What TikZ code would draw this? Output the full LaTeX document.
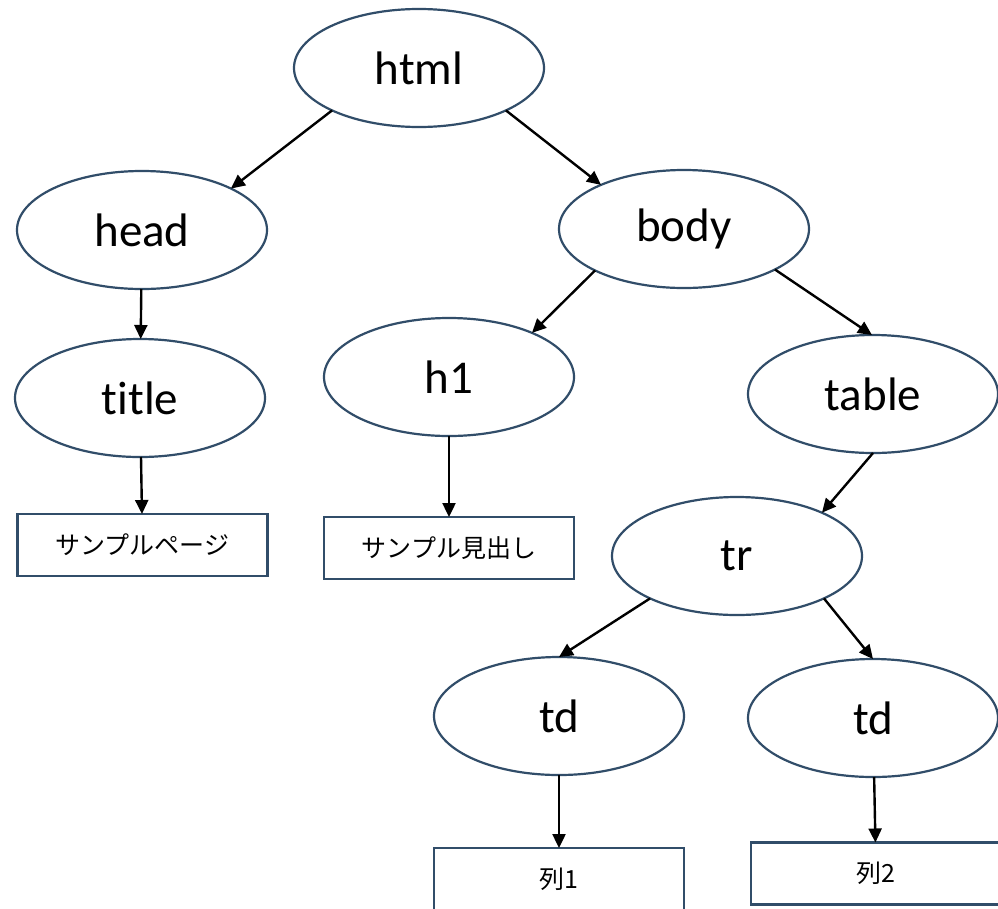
\documentclass[tikz,border=0pt]{standalone}
\usepackage{fontspec}
\setmainfont{Carlito}[Ligatures=NoCommon]
\newfontfamily\jp{Noto Sans CJK JP}
\usetikzlibrary{shapes.geometric,arrows.meta}
\definecolor{edge}{RGB}{49,77,105}
\tikzset{
  elnode/.style={ellipse,draw=edge,line width=2.2pt,minimum width=250pt,minimum height=118pt,inner sep=0pt,outer sep=0pt,font=\fontsize{47}{52}\selectfont},
  boxnode/.style={rectangle,draw=edge,line width=2.2pt,minimum width=250pt,minimum height=62pt,inner sep=0pt,outer sep=0pt,font=\jp\fontsize{25}{30}\selectfont},
  arr/.style={draw=black,line width=2.4pt,-{Triangle[length=14pt,width=13pt]}}
}
\begin{document}
\begin{tikzpicture}[x=1pt,y=-1pt]
\useasboundingbox[fill=white] (0,0) rectangle (998,908);
\node[elnode] (html) at (419,68) {html};
\node[elnode] (head) at (142,230) {head};
\node[elnode] (body) at (684,229) {body};
\node[elnode] (title) at (140,398) {title};
\node[elnode] (h1) at (449,377) {h1};
\node[elnode] (table) at (873,394) {table};
\node[elnode] (tr) at (737,556) {tr};
\node[elnode] (td1) at (559,716) {td};
\node[elnode] (td2) at (873,718) {td};
\node[boxnode] (b1) at (142.5,545) {サンプルページ};
\node[boxnode] (b2) at (449,548) {サンプル見出し};
\node[boxnode] (b3) at (559,879) {列1};
\node[boxnode] (b4) at (876,873.5) {列2};
\draw[arr] (html.206) -- (head.25);
\draw[arr] (html.334) -- (body.152);
\draw[arr] (head) -- (title);
\draw[arr] (title) -- (b1);
\draw[arr] (body.205) -- (h1.28);
\draw[arr] (body.336) -- (table.91);
\draw[arr] (h1) -- (b2);
\draw[arr] (table.270) -- (tr.27);
\draw[arr] (tr.206) -- (td1.90);
\draw[arr] (tr.334) -- (td2.90);
\draw[arr] (td1) -- (b3);
\draw[arr] (td2) -- (b4);
\end{tikzpicture}
\end{document}
